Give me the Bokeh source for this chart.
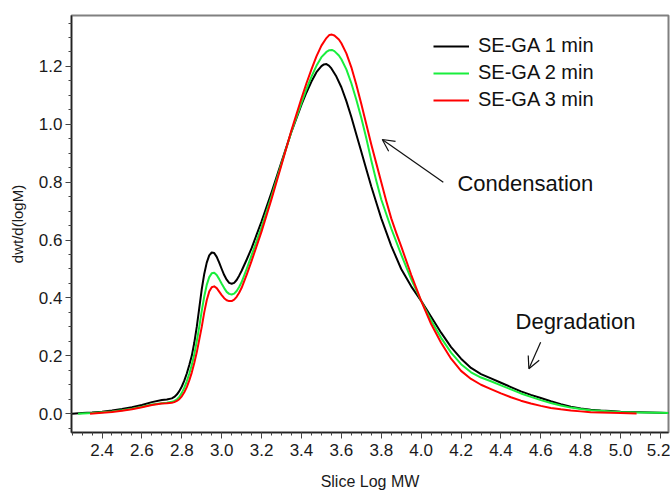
from bokeh.plotting import figure
from bokeh.models import (Range1d, FixedTicker, PrintfTickFormatter, Legend, LegendItem,
                          Label, Arrow, OpenHead)
from bokeh.embed import file_html
from bokeh.resources import INLINE

# ---- data ----
x_1min = [2.25, 2.30, 2.35, 2.40, 2.45, 2.50, 2.55, 2.60, 2.65, 2.70, 2.725, 2.75, 2.7625, 2.775,
          2.7875, 2.80, 2.8125, 2.825, 2.8375, 2.85, 2.8625, 2.875, 2.8875, 2.90, 2.9125, 2.925,
          2.9375, 2.95, 2.9625, 2.975, 2.9875, 3.00, 3.0125, 3.025, 3.0375, 3.05, 3.0625, 3.075,
          3.0875, 3.10, 3.125, 3.15, 3.20, 3.25, 3.30, 3.35, 3.40, 3.425, 3.45, 3.475, 3.50,
          3.5125, 3.525, 3.5375, 3.55, 3.575, 3.60, 3.625, 3.65, 3.675, 3.70, 3.725, 3.75,
          3.775, 3.80, 3.85, 3.90, 3.95, 4.00, 4.05, 4.10, 4.15, 4.20, 4.25, 4.30, 4.35, 4.40,
          4.45, 4.50, 4.55, 4.60, 4.65, 4.70, 4.75, 4.80, 4.85, 4.90, 4.95, 5.00, 5.10, 5.20, 5.24]
y_1min = [0.000, 0.002, 0.004, 0.007, 0.011, 0.016, 0.022, 0.030, 0.040, 0.047, 0.049, 0.053,
          0.058, 0.066, 0.078, 0.094, 0.114, 0.139, 0.168, 0.200, 0.245, 0.300, 0.365, 0.430,
          0.483, 0.522, 0.547, 0.557, 0.555, 0.542, 0.522, 0.500, 0.479, 0.463, 0.452, 0.449,
          0.452, 0.462, 0.477, 0.494, 0.532, 0.572, 0.665, 0.765, 0.870, 0.975, 1.068, 1.110,
          1.148, 1.180, 1.201, 1.207, 1.208, 1.203, 1.193, 1.165, 1.128, 1.080, 1.025, 0.965,
          0.905, 0.845, 0.785, 0.730, 0.675, 0.580, 0.500, 0.440, 0.390, 0.335, 0.280, 0.230,
          0.190, 0.158, 0.137, 0.122, 0.107, 0.092, 0.077, 0.065, 0.054, 0.043, 0.033, 0.024,
          0.018, 0.014, 0.011, 0.009, 0.007, 0.005, 0.003, 0.002]

x_2min = [2.28, 2.35, 2.40, 2.45, 2.50, 2.55, 2.60, 2.65, 2.70, 2.725, 2.75, 2.7625, 2.775,
          2.7875, 2.80, 2.8125, 2.825, 2.8375, 2.85, 2.8625, 2.875, 2.8875, 2.90, 2.9125, 2.925,
          2.9375, 2.95, 2.9625, 2.975, 2.9875, 3.00, 3.0125, 3.025, 3.0375, 3.05, 3.0625, 3.075,
          3.0875, 3.10, 3.125, 3.15, 3.20, 3.25, 3.30, 3.35, 3.40, 3.425, 3.45, 3.475, 3.50,
          3.525, 3.54, 3.5525, 3.565, 3.5875, 3.60, 3.625, 3.65, 3.675, 3.70, 3.725, 3.75,
          3.775, 3.80, 3.85, 3.90, 3.95, 4.00, 4.05, 4.10, 4.15, 4.20, 4.25, 4.30, 4.35, 4.40,
          4.45, 4.50, 4.55, 4.60, 4.65, 4.70, 4.75, 4.80, 4.85, 4.90, 4.95, 5.00, 5.10, 5.20, 5.24]
y_2min = [0.000, 0.002, 0.005, 0.008, 0.012, 0.017, 0.024, 0.032, 0.036, 0.038, 0.041, 0.044,
          0.049, 0.058, 0.072, 0.090, 0.112, 0.138, 0.168, 0.205, 0.250, 0.300, 0.355, 0.405,
          0.445, 0.472, 0.485, 0.487, 0.479, 0.465, 0.449, 0.434, 0.421, 0.414, 0.412, 0.415,
          0.424, 0.438, 0.455, 0.500, 0.548, 0.645, 0.752, 0.865, 0.975, 1.074, 1.122, 1.165,
          1.202, 1.232, 1.250, 1.256, 1.257, 1.253, 1.238, 1.225, 1.190, 1.142, 1.085, 1.022,
          0.952, 0.875, 0.805, 0.740, 0.640, 0.550, 0.465, 0.390, 0.322, 0.262, 0.211, 0.171,
          0.143, 0.125, 0.112, 0.098, 0.084, 0.070, 0.058, 0.047, 0.037, 0.028, 0.021, 0.016,
          0.012, 0.010, 0.008, 0.006, 0.004, 0.003, 0.002]

x_3min = [2.34, 2.40, 2.45, 2.50, 2.55, 2.60, 2.65, 2.70, 2.725, 2.75, 2.7625, 2.775, 2.7875,
          2.80, 2.8125, 2.825, 2.8375, 2.85, 2.8625, 2.875, 2.8875, 2.90, 2.9125, 2.925, 2.9375,
          2.95, 2.9625, 2.975, 2.9875, 3.00, 3.0125, 3.025, 3.0375, 3.05, 3.0625, 3.075, 3.0875,
          3.10, 3.125, 3.15, 3.20, 3.25, 3.30, 3.35, 3.40, 3.425, 3.45, 3.475, 3.50, 3.525,
          3.54, 3.5525, 3.565, 3.5875, 3.60, 3.625, 3.65, 3.675, 3.70, 3.725, 3.75, 3.775,
          3.80, 3.825, 3.85, 3.875, 3.90, 3.95, 4.00, 4.05, 4.10, 4.15, 4.20, 4.25, 4.30, 4.35,
          4.40, 4.45, 4.50, 4.55, 4.60, 4.65, 4.70, 4.75, 4.80, 4.85, 4.90, 5.00, 5.08]
y_3min = [0.000, 0.003, 0.006, 0.010, 0.015, 0.022, 0.030, 0.035, 0.036, 0.038, 0.040, 0.044,
          0.050, 0.060, 0.074, 0.092, 0.115, 0.142, 0.175, 0.212, 0.256, 0.300, 0.350, 0.392,
          0.422, 0.437, 0.440, 0.434, 0.422, 0.410, 0.399, 0.392, 0.389, 0.389, 0.394, 0.404,
          0.418, 0.435, 0.480, 0.528, 0.630, 0.742, 0.860, 0.980, 1.090, 1.142, 1.190, 1.235,
          1.272, 1.298, 1.309, 1.310, 1.307, 1.293, 1.280, 1.245, 1.197, 1.137, 1.070, 1.000,
          0.930, 0.865, 0.800, 0.735, 0.675, 0.625, 0.578, 0.480, 0.390, 0.310, 0.245, 0.190,
          0.148, 0.120, 0.100, 0.085, 0.070, 0.057, 0.045, 0.035, 0.027, 0.020, 0.015, 0.011,
          0.008, 0.005, 0.004, 0.002, 0.001]

series_labels = ["SE-GA 1 min", "SE-GA 2 min", "SE-GA 3 min"]
series_colors = ["#000000", "#19ee3c", "#ff0000"]

x_major_ticks = [2.4, 2.6, 2.8, 3.0, 3.2, 3.4, 3.6, 3.8, 4.0, 4.2, 4.4, 4.6, 4.8, 5.0, 5.2]
x_minor_ticks = [round(2.25 + 0.05 * i, 2) for i in range(60)]
y_major_ticks = [0.0, 0.2, 0.4, 0.6, 0.8, 1.0, 1.2]
y_minor_ticks = [round(-0.05 + 0.05 * i, 2) for i in range(29)]

FONT = "Liberation Sans"

p = figure(width=670, height=494, output_backend="svg", toolbar_location=None,
           x_range=Range1d(2.247, 5.24), y_range=Range1d(-0.065, 1.376),
           min_border_left=71, min_border_right=2, min_border_top=15, min_border_bottom=62)
p.grid.visible = False
p.outline_line_color = "#808080"
p.outline_line_width = 2
p.background_fill_color = "white"
p.border_fill_color = "white"

renderers = []
for xs, ys, c in zip([x_1min, x_2min, x_3min], [y_1min, y_2min, y_3min], series_colors):
    renderers.append(p.line(xs, ys, line_color=c, line_width=2, line_join="round"))

# axes
p.xaxis.ticker = FixedTicker(ticks=x_major_ticks, minor_ticks=x_minor_ticks)
p.yaxis.ticker = FixedTicker(ticks=y_major_ticks, minor_ticks=y_minor_ticks)
for ax in (p.xaxis, p.yaxis):
    ax.formatter = PrintfTickFormatter(format="%.1f")
    ax.axis_line_color = "#222222"
    ax.axis_line_width = 1.5
    ax.major_tick_line_color = "#444444"
    ax.minor_tick_line_color = "#444444"
    ax.major_tick_out = 6
    ax.major_tick_in = 0
    ax.minor_tick_out = 3
    ax.minor_tick_in = 0
    ax.major_label_text_font = FONT
    ax.major_label_text_font_size = "17px"
    ax.major_label_text_color = "#1a1a1a"
    ax.axis_label_text_font = FONT
    ax.axis_label_text_font_style = "normal"
    ax.axis_label_text_color = "#1a1a1a"
p.xaxis.axis_label = "Slice Log MW"
p.xaxis.axis_label_text_font_size = "16px"
p.xaxis.major_label_standoff = 5
p.xaxis.axis_label_standoff = 14
p.yaxis.axis_label = "dwt/d(logM)"
p.yaxis.axis_label_text_font_size = "15px"
p.yaxis.major_label_standoff = 3
p.yaxis.axis_label_standoff = 10

legend = Legend(items=[LegendItem(label=l, renderers=[r]) for l, r in zip(series_labels, renderers)],
                location=(362, 321), orientation="vertical",
                border_line_alpha=0, background_fill_alpha=0,
                padding=0, margin=0, spacing=4,
                glyph_width=36, glyph_height=22, label_height=22, label_standoff=9,
                label_text_font=FONT, label_text_font_size="20px", label_text_color="#111111")
p.add_layout(legend)

# annotations
cond_arrow = dict(x_start=4.111, y_start=0.800, x_end=3.805, y_end=0.9475)
degr_arrow = dict(x_start=4.599, y_start=0.247, x_end=4.540, y_end=0.155)
for a in (cond_arrow, degr_arrow):
    p.add_layout(Arrow(end=OpenHead(size=12, line_width=1.2, line_color="#111111"),
                       line_width=1.2, line_color="#111111", **a))

p.add_layout(Label(x=4.182, y=0.797, text="Condensation", text_baseline="middle",
                   text_font=FONT, text_font_size="22px", text_color="#111111"))
p.add_layout(Label(x=4.473, y=0.317, text="Degradation", text_baseline="middle",
                   text_font=FONT, text_font_size="22px", text_color="#111111"))

open("out.html", "w").write(file_html(p, INLINE))
